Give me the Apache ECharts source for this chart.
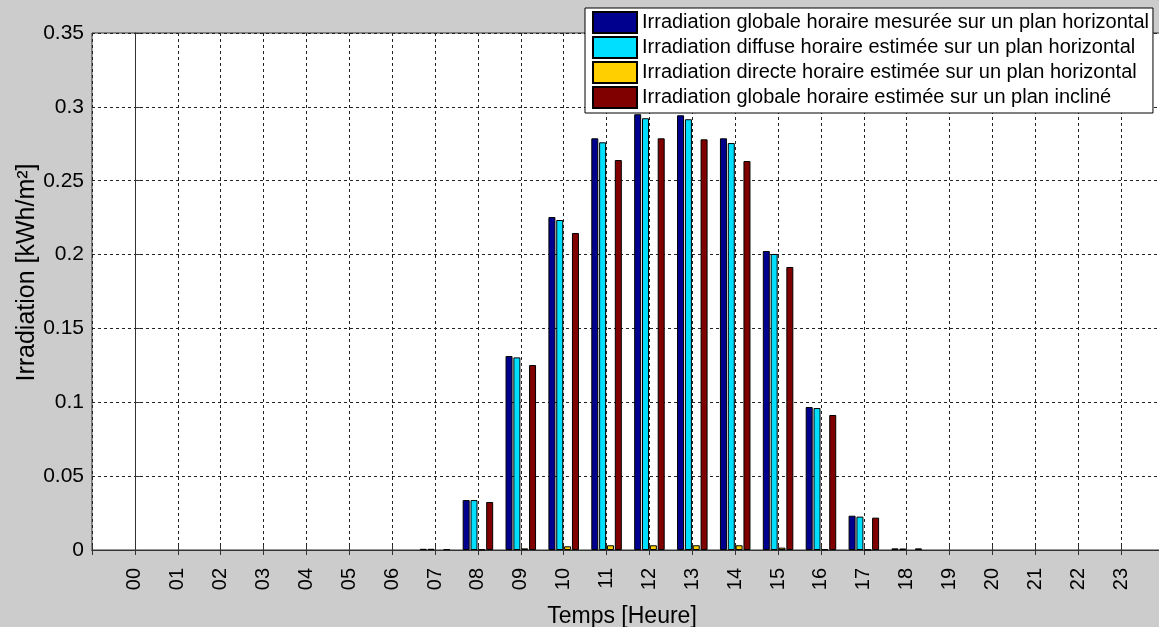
<!DOCTYPE html>
<html>
<head>
<meta charset="utf-8">
<title>Irradiation horaire</title>
<script src="https://cdn.jsdelivr.net/npm/echarts@6/dist/echarts.min.js"></script>
<style>
  html, body { margin: 0; padding: 0; background: #cccccc; }
  #chart { width: 1159px; height: 627px; }
</style>
</head>
<body>
<div id="chart"></div>
<script>
// Hours of the day (x axis categories)
const hours = ['00','01','02','03','04','05','06','07','08','09','10','11',
               '12','13','14','15','16','17','18','19','20','21','22','23'];

// Hourly irradiation values, kWh/m²
const globalMeasuredH = [0,0,0,0,0,0,0,0.0008,0.0338,0.1313,0.2254,0.2787,
                         0.2950,0.2943,0.2787,0.2024,0.0968,0.0232,0.0011,0,0,0,0,0];
const diffuseEstimatedH = [0,0,0,0,0,0,0,0.0008,0.0338,0.1304,0.2234,0.2760,
                           0.2923,0.2916,0.2755,0.2004,0.0961,0.0226,0.0010,0,0,0,0,0];
const directEstimatedH = [0,0,0,0,0,0,0,0,0.0003,0.0011,0.0025,0.0032,
                          0.0032,0.0032,0.0032,0.0016,0.0005,0.0002,0,0,0,0,0,0];
const globalEstimatedTilt = [0,0,0,0,0,0,0,0.0005,0.0325,0.1252,0.2146,0.2640,
                             0.2787,0.2780,0.2633,0.1916,0.0914,0.0219,0.0011,0,0,0,0,0];

const seriesNames = [
  'Irradiation globale horaire mesurée sur un plan horizontal',
  'Irradiation diffuse horaire estimée sur un plan horizontal',
  'Irradiation directe horaire estimée sur un plan horizontal',
  'Irradiation globale horaire estimée sur un plan incliné'
];
const seriesColors = ['#00008f', '#00dfff', '#ffcf00', '#800000'];

const FONT = '"Liberation Sans", Arial, Helvetica, sans-serif';

// Pair each hour index with its value; empty hours draw nothing
function toPoints(values) {
  return values.map((v, i) => [i, v > 0 ? v : null]);
}

const allValues = [globalMeasuredH, diffuseEstimatedH, directEstimatedH, globalEstimatedTilt];

const chart = echarts.init(document.getElementById('chart'), null, { renderer: 'canvas' });

chart.setOption({
  backgroundColor: '#cccccc',
  animation: false,
  textStyle: { fontFamily: FONT },
  grid: {
    left: 92, top: 33, width: 1072, height: 517,
    outerBoundsMode: 'none',
    containLabel: false,
    show: true, backgroundColor: '#ffffff', borderColor: '#333', borderWidth: 1
  },
  legend: {
    orient: 'vertical',
    left: 585, top: 8,
    padding: [3, 4, 4, 7],
    itemGap: 2,
    itemWidth: 44, itemHeight: 21,
    backgroundColor: '#ffffff',
    borderColor: '#000', borderWidth: 1,
    icon: 'rect',
    textStyle: { fontFamily: FONT, fontSize: 20, color: '#000', lineHeight: 23 },
    data: seriesNames
  },
  xAxis: [{
    type: 'value',
    min: -1, max: 24, interval: 1,
    name: 'Temps [Heure]',
    nameLocation: 'middle',
    nameGap: 55,
    nameMoveOverlap: false,
    nameTextStyle: { fontFamily: FONT, fontSize: 23, color: '#000', padding: [0, 12, 0, 0] },
    axisLine: { show: true, onZero: false, lineStyle: { color: '#333' } },
    axisTick: { show: true, inside: true, length: 5, lineStyle: { color: '#333' } },
    axisLabel: {
      rotate: 90, margin: 18, fontSize: 20, color: '#000', fontFamily: FONT,
      formatter: v => (v >= 0 && v <= 23) ? hours[v] : ''
    },
    splitLine: { show: true, lineStyle: { color: '#222', width: 1, type: [3, 3] } }
  }, {
    type: 'value',
    position: 'top',
    min: -1, max: 24, interval: 1,
    axisLine: { show: true, lineStyle: { color: '#333' } },
    axisTick: { show: true, inside: true, length: 5, lineStyle: { color: '#333' } },
    axisLabel: { show: false },
    splitLine: { show: false }
  }],
  yAxis: {
    type: 'value',
    min: 0, max: 0.35, interval: 0.05,
    name: 'Irradiation [kWh/m²]',
    nameLocation: 'middle',
    nameGap: 52,
    nameMoveOverlap: false,
    nameTextStyle: { fontFamily: FONT, fontSize: 25, color: '#000', padding: [0, 0, 0, 38] },
    axisLine: { show: true, lineStyle: { color: '#333' } },
    axisTick: { show: true, inside: true, length: 5, lineStyle: { color: '#333' } },
    axisLabel: {
      margin: 8, fontSize: 21, color: '#000', fontFamily: FONT,
      formatter: v => String(+v.toFixed(2))
    },
    splitLine: { show: true, lineStyle: { color: '#222', width: 1, type: [3, 3] } }
  },
  series: allValues.map((vals, k) => ({
    name: seriesNames[k],
    type: 'bar',
    xAxisIndex: 0,
    barWidth: 7,
    barGap: '12%',
    itemStyle: { color: seriesColors[k], borderColor: '#000', borderWidth: 1 },
    data: toPoints(vals)
  }))
});
</script>
</body>
</html>
